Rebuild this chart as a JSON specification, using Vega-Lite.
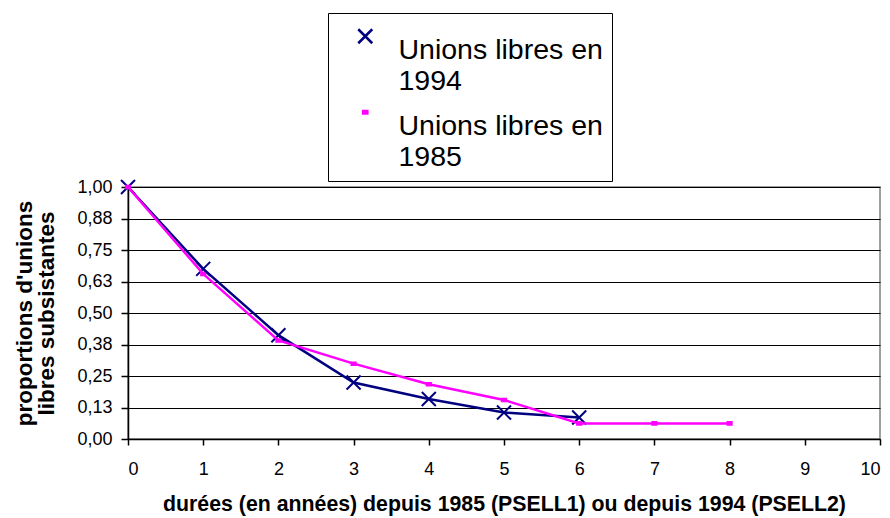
{
  "$schema": "https://vega.github.io/schema/vega-lite/v6.json",
  "autosize": "none",
  "width": 752,
  "height": 252,
  "padding": {"left": 128, "top": 187, "right": 10, "bottom": 79},
  "background": "white",
  "config": {
    "font": "Liberation Sans",
    "view": {"stroke": "#808080", "strokeWidth": 1.5},
    "axis": {
      "labelFont": "Liberation Sans",
      "labelFontSize": 18,
      "labelColor": "black",
      "domainColor": "black",
      "domainWidth": 1.5,
      "tickColor": "black",
      "tickWidth": 1.5,
      "gridColor": "black",
      "gridOpacity": 1,
      "gridWidth": 1,
      "titleFont": "Liberation Sans",
      "titleFontWeight": "bold",
      "titleColor": "black"
    }
  },
  "data": {
    "values": [
      {"series": "Unions libres en 1994", "duree": 0, "prop": 1.0},
      {"series": "Unions libres en 1994", "duree": 1, "prop": 0.675},
      {"series": "Unions libres en 1994", "duree": 2, "prop": 0.412},
      {"series": "Unions libres en 1994", "duree": 3, "prop": 0.224},
      {"series": "Unions libres en 1994", "duree": 4, "prop": 0.159},
      {"series": "Unions libres en 1994", "duree": 5, "prop": 0.105},
      {"series": "Unions libres en 1994", "duree": 6, "prop": 0.085},
      {"series": "Unions libres en 1985", "duree": 0, "prop": 1.0},
      {"series": "Unions libres en 1985", "duree": 1, "prop": 0.655},
      {"series": "Unions libres en 1985", "duree": 2, "prop": 0.391},
      {"series": "Unions libres en 1985", "duree": 3, "prop": 0.299},
      {"series": "Unions libres en 1985", "duree": 4, "prop": 0.217},
      {"series": "Unions libres en 1985", "duree": 5, "prop": 0.155},
      {"series": "Unions libres en 1985", "duree": 6, "prop": 0.062},
      {"series": "Unions libres en 1985", "duree": 7, "prop": 0.062},
      {"series": "Unions libres en 1985", "duree": 8, "prop": 0.062}
    ]
  },
  "encoding": {
    "x": {
      "field": "duree",
      "type": "quantitative",
      "scale": {"domain": [0, 10], "nice": false},
      "axis": {
        "title": "durées (en années) depuis 1985 (PSELL1) ou depuis 1994 (PSELL2)",
        "titleFontSize": 21.3,
        "values": [0, 1, 2, 3, 4, 5, 6, 7, 8, 9, 10],
        "grid": false,
        "tickSize": 6,
        "labelPadding": 15,
        "titlePadding": 15
      }
    },
    "y": {
      "field": "prop",
      "type": "quantitative",
      "scale": {"domain": [0, 1], "nice": false},
      "axis": {
        "title": ["proportions d'unions", "libres subsistantes"],
        "titleFontSize": 22.5,
        "titleLineHeight": 22,
        "values": [0, 0.125, 0.25, 0.375, 0.5, 0.625, 0.75, 0.875, 1],
        "labelExpr": "replace(format(datum.value, '.2f'), '.', ',')",
        "grid": true,
        "tickSize": 7,
        "labelPadding": 9,
        "titlePadding": 18
      }
    }
  },
  "layer": [
    {
      "mark": {"type": "point", "filled": true, "strokeWidth": 2, "opacity": 1, "size": 196},
      "encoding": {
        "color": {
          "field": "series",
          "type": "nominal",
          "scale": {"domain": ["Unions libres en 1994", "Unions libres en 1985"], "range": ["#000080", "#FF00FF"]},
          "legend": {
            "title": null,
            "orient": "none",
            "legendX": 200,
            "legendY": -174,
            "fillColor": "white",
            "strokeColor": "black",
            "padding": 9,
            "labelFont": "Liberation Sans",
            "labelFontSize": 28.5,
            "labelColor": "black",
            "labelLimit": 400,
            "labelOffset": 19,
            "labelBaseline": "top",
            "rowPadding": 2,
            "symbolSize": 196,
            "symbolOffset": 14,
            "symbolStrokeWidth": 2.5,
            "labelExpr": "[slice(datum.label, 0, 16), slice(datum.label, 17)]",
            "encode": {
              "labels": {
                "lineHeight": {"value": 30},
                "y": {"value": -9}
              }
            }
          }
        },
        "stroke": {
          "field": "series",
          "type": "nominal",
          "scale": {"domain": ["Unions libres en 1994", "Unions libres en 1985"], "range": ["#000080", "#FF00FF"]}
        },
        "shape": {
          "field": "series",
          "type": "nominal",
          "scale": {"domain": ["Unions libres en 1994", "Unions libres en 1985"], "range": ["M-1,-1L1,1M-1,1L1,-1", "M-0.3,-0.18H0.3V0.18H-0.3Z"]}
        }
      }
    },
    {
      "mark": {"type": "line", "strokeWidth": 2.5},
      "encoding": {
        "color": {
          "field": "series",
          "type": "nominal",
          "scale": {"domain": ["Unions libres en 1994", "Unions libres en 1985"], "range": ["#000080", "#FF00FF"]}
        }
      }
    }
  ]
}
